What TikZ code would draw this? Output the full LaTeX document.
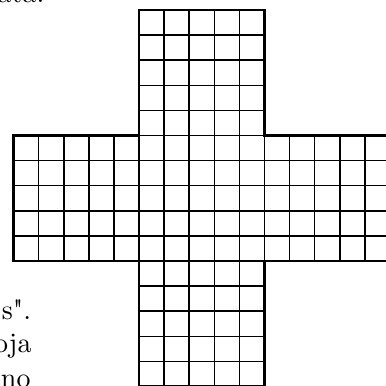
\documentclass[tikz,border=0pt]{standalone}
\begin{document}
\begin{tikzpicture}[x=.315cm,y=.315cm]
\useasboundingbox (-.54,.04) rectangle (14.84,15.40);
\clip (-.54,.04) rectangle (14.84,15.40);
% text lines of the page round the figure
\node[anchor=base east,inner sep=0pt] (ata) at (1.25,15.28) {ata.};
\node[anchor=base east,inner sep=0pt] (quot) at (.72,2.65) {s\textquotedbl.};
\node[anchor=base east,inner sep=0pt] (oja) at (.74,1.34) {oja};
\node[anchor=base east,inner sep=0pt] (no) at (.70,-.04) {no};
% the cross
\draw[line width=.55pt,step=1] (5,0) grid (10,15);
\draw[line width=.55pt,step=1] (0,5) grid (15,10);
\draw[line width=.9pt] (5,0) -- (5,5) -- (0,5) -- (0,10) -- (5,10) -- (5,15) -- (10,15) -- (10,10) -- (15,10) -- (15,5) -- (10,5) -- (10,0) -- cycle;
\end{tikzpicture}
\end{document}
